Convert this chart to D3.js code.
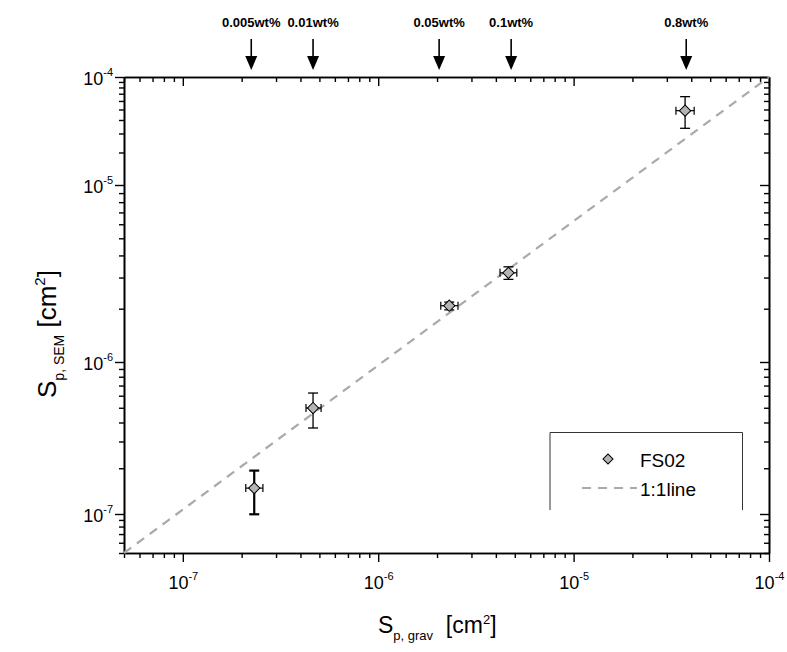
<!DOCTYPE html>
<html><head><meta charset="utf-8">
<script src="https://cdn.jsdelivr.net/npm/d3@7"></script>
<style>body{margin:0;background:#fff} svg{display:block}</style>
</head><body><svg id="c" width="787" height="652"></svg>
<script>
// ---- data ----
const seriesName = "FS02";
const lineName = "1:1line";
const xGrav = [2.32e-7, 4.64e-7, 2.31e-6, 4.64e-6, 3.72e-5];
const ySEM  = [1.48e-7, 4.98e-7, 2.08e-6, 3.19e-6, 4.88e-5];
const xLo   = [2.10e-7, 4.27e-7, 2.09e-6, 4.20e-6, 3.34e-5];
const xHi   = [2.57e-7, 5.10e-7, 2.56e-6, 5.12e-6, 4.14e-5];
const yLo   = [9.95e-8, 3.68e-7, 1.97e-6, 2.93e-6, 3.35e-5];
const yHi   = [1.93e-7, 6.25e-7, 2.18e-6, 3.45e-6, 6.58e-5];
const concLabels = ["0.005wt%", "0.01wt%", "0.05wt%", "0.1wt%", "0.8wt%"];
const concX = [2.24e-7, 4.64e-7, 2.05e-6, 4.79e-6, 3.77e-5];
const majorTicks = [1e-7, 1e-6, 1e-5, 1e-4];
const tickExp = ["-7", "-6", "-5", "-4"];
const axisDomain = [5e-8, 1e-4];
const yBreaks = [5e-8, 1e-7, 1e-6, 1e-5, 1e-4];
const lineRange = [5e-8, 1e-4];

// ---- layout ----
const L = 124, R = 769, T = 77, B = 553;
const yStops = [B, 514, 362, 185, T];
const svg = d3.select("#c");
const font = "Arial, 'Liberation Sans', sans-serif";
svg.attr("font-family", font);

const x = d3.scaleLog().domain(axisDomain).range([L, R]);
const y = d3.scaleLog().domain(yBreaks).range(yStops);
const allTicks = d3.scaleLog().domain(axisDomain).ticks().filter(v => v >= axisDomain[0] * 0.999 && v <= axisDomain[1] * 1.001);
const isMajor = v => Math.abs(Math.log10(v) - Math.round(Math.log10(v))) < 1e-6;
const minorTicks = allTicks.filter(v => !isMajor(v));

function styleAxis(g) {
  g.selectAll("path.domain").attr("stroke", "#000").attr("stroke-width", 1.6);
  g.selectAll(".tick line").attr("stroke", "#000").attr("stroke-width", 1.4);
}
function axisPair(maker, scale, tx, ty, inward) {
  const gMin = svg.append("g").attr("transform", `translate(${tx},${ty})`)
    .call(maker(scale).tickValues(minorTicks).tickSize(5).tickSizeOuter(0).tickFormat(() => ""));
  const gMaj = svg.append("g").attr("transform", `translate(${tx},${ty})`)
    .call(maker(scale).tickValues(majorTicks).tickSize(9).tickSizeOuter(0).tickFormat(() => ""));
  styleAxis(gMin); styleAxis(gMaj);
  if (inward) {
    [gMin, gMaj].forEach(g => g.selectAll(".tick line").each(function () {
      const l = d3.select(this);
      ["x2", "y2"].forEach(a => { if (l.attr(a)) l.attr(a, -(+l.attr(a))); });
    }));
  }
  [gMin, gMaj].forEach(g => g.selectAll(".tick text").remove());
  return gMaj;
}
function supLabel(sel) {
  sel.each(function (d) {
    const t = d3.select(this);
    t.append("tspan").text("10");
    t.append("tspan").attr("dy", -9).attr("font-size", 11).text(tickExp[majorTicks.indexOf(d)]);
  });
}
// bottom (outward), labelled
const gBot = axisPair(d3.axisBottom, x, 0, B, false);
gBot.selectAll(".tick").append("text")
  .attr("y", 36).attr("text-anchor", "middle").attr("fill", "#000").attr("font-size", 18)
  .call(supLabel);
// left (outward), labelled
const gLeft = axisPair(d3.axisLeft, y, L, 0, false);
gLeft.selectAll(".tick").append("text")
  .attr("x", -11).attr("y", 7).attr("text-anchor", "end").attr("fill", "#000").attr("font-size", 18)
  .call(supLabel);
// top & right (inward, no labels)
axisPair(d3.axisTop, x, 0, T, true);
axisPair(d3.axisRight, y, R, 0, true);

// ---- 1:1 line ----
svg.append("line")
  .attr("x1", x(lineRange[0])).attr("y1", y(lineRange[0]))
  .attr("x2", x(lineRange[1])).attr("y2", y(lineRange[1]))
  .attr("stroke", "#aaaaaa").attr("stroke-width", 2.2).attr("stroke-dasharray", "9,7");

// ---- error bars & points ----
const pts = xGrav.map((v, i) => ({ x: v, y: ySEM[i], xl: xLo[i], xh: xHi[i], yl: yLo[i], yh: yHi[i], i }));
const eb = svg.append("g").attr("stroke", "#000");
pts.forEach(p => {
  const w = p.i === 0 ? 2.2 : 1.3;
  const cx = x(p.x), cy = y(p.y);
  eb.append("line").attr("x1", cx).attr("x2", cx).attr("y1", y(p.yl)).attr("y2", y(p.yh)).attr("stroke-width", w);
  eb.append("line").attr("x1", cx - 5).attr("x2", cx + 5).attr("y1", y(p.yl)).attr("y2", y(p.yl)).attr("stroke-width", w);
  eb.append("line").attr("x1", cx - 5).attr("x2", cx + 5).attr("y1", y(p.yh)).attr("y2", y(p.yh)).attr("stroke-width", w);
  eb.append("line").attr("x1", x(p.xl)).attr("x2", x(p.xh)).attr("y1", cy).attr("y2", cy).attr("stroke-width", 1.2);
  eb.append("line").attr("x1", x(p.xl)).attr("x2", x(p.xl)).attr("y1", cy - 4).attr("y2", cy + 4).attr("stroke-width", 1.2);
  eb.append("line").attr("x1", x(p.xh)).attr("x2", x(p.xh)).attr("y1", cy - 4).attr("y2", cy + 4).attr("stroke-width", 1.2);
});
svg.append("g").selectAll("path").data(pts).join("path")
  .attr("d", d3.symbol().type(d3.symbolSquare).size(64))
  .attr("transform", d => `translate(${x(d.x)},${y(d.y)}) rotate(45)`)
  .attr("fill", "#b4b4b4").attr("stroke", "#000").attr("stroke-width", 1);

// ---- concentration arrows ----
const ar = svg.append("g");
concX.forEach((v, i) => {
  const cx = x(v);
  ar.append("text").attr("x", cx).attr("y", 27).attr("text-anchor", "middle")
    .attr("font-size", 13).attr("font-weight", "bold").attr("fill", "#000").text(concLabels[i]);
  ar.append("line").attr("x1", cx).attr("x2", cx).attr("y1", 39).attr("y2", 57)
    .attr("stroke", "#000").attr("stroke-width", 1.6);
  ar.append("path").attr("d", `M${cx - 6},56 L${cx + 6},56 L${cx},70 Z`).attr("fill", "#000");
});

// ---- legend ----
const lg = svg.append("g");
lg.append("path").attr("d", "M550,510 L550,432.5 L742.5,432.5 L742.5,510")
  .attr("fill", "none").attr("stroke", "#333").attr("stroke-width", 1);
lg.append("path").attr("d", d3.symbol().type(d3.symbolSquare).size(50)())
  .attr("transform", "translate(608,459) rotate(45)")
  .attr("fill", "#b4b4b4").attr("stroke", "#000").attr("stroke-width", 1);
lg.append("text").attr("x", 640).attr("y", 467).attr("font-size", 19).attr("fill", "#000").text(seriesName);
lg.append("line").attr("x1", 582).attr("x2", 637).attr("y1", 488).attr("y2", 488)
  .attr("stroke", "#aaaaaa").attr("stroke-width", 2.2).attr("stroke-dasharray", "9,7");
lg.append("text").attr("x", 640).attr("y", 496).attr("font-size", 19).attr("fill", "#000").text(lineName);

// ---- axis titles ----
const xt = svg.append("text").attr("x", 378).attr("y", 633).attr("font-size", 23).attr("fill", "#000");
xt.append("tspan").text("S");
xt.append("tspan").attr("dy", 7).attr("font-size", 13).text("p, grav");
xt.append("tspan").attr("dy", -7).text("\u00a0 [cm");
xt.append("tspan").attr("dy", -9).attr("font-size", 13).text("2");
xt.append("tspan").attr("dy", 9).text("]");

const yt = svg.append("text").attr("transform", "translate(56,398) rotate(-90)").attr("font-size", 26).attr("fill", "#000");
yt.append("tspan").text("S");
yt.append("tspan").attr("dy", 8).attr("font-size", 14).text("p, SEM");
yt.append("tspan").attr("dy", -8).text(" [cm");
yt.append("tspan").attr("dy", -11).attr("font-size", 15).text("2");
yt.append("tspan").attr("dy", 11).text("]");
</script></body></html>
